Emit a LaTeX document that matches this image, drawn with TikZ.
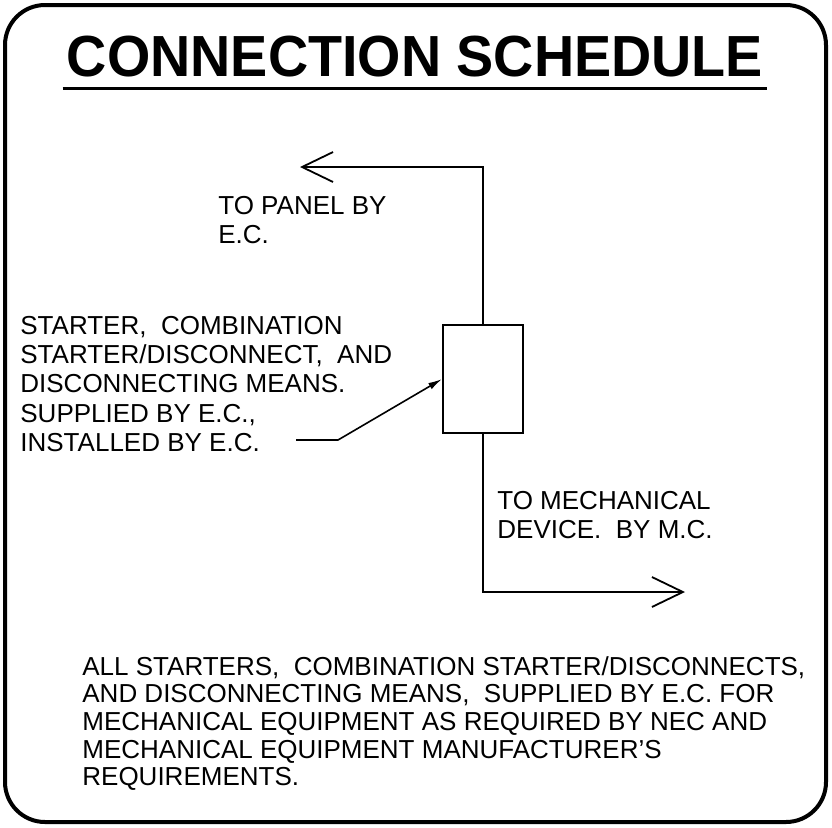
\documentclass[tikz,border=0pt]{standalone}
\usepackage{fontspec}
\setmainfont{Liberation Sans}
\newfontfamily\titlefont[FakeStretch=0.96]{Liberation Sans}
\usetikzlibrary{arrows.meta,positioning}

\begin{document}
\begin{tikzpicture}[
        x=0.5pt, y=-0.5pt,
        frame/.style={draw, line width=2pt, rounded corners=20pt},
        heading/.style={font=\titlefont\bfseries\fontsize{29}{32}\selectfont, inner xsep=2pt, inner ysep=6pt, anchor=base},
        note/.style={align=left, anchor=north west, inner sep=0pt, font=\fontsize{13}{14.6}\selectfont},
        para/.style={align=left, anchor=north west, inner sep=0pt, font=\fontsize{13}{13.8}\selectfont},
        device/.style={draw, line width=0.9pt, minimum width=40pt, minimum height=54pt, inner sep=0pt},
        wire/.style={draw, line width=0.9pt, -{Straight Barb[length=15.5pt, width=15pt]}},
        leader/.style={draw, line width=0.8pt, -{Latex[length=7pt, width=3.5pt]}}
    ]
        \useasboundingbox (0,0) rectangle (832,827);

        % Border and heading
        \draw [frame] (5,5) rectangle (826,822);
        \node (title) [heading] at (415,76) {CONNECTION SCHEDULE};
        \draw [line width=1.5pt] (title.south west) -- (title.south east);

        % Starter box and feeds
        \node (starter) [device] at (483,379) {};
        \coordinate (panel) at (300,167);
        \coordinate (mech) at (685,592);
        \draw [wire] (starter.north) |- (panel);
        \draw [wire] (starter.south) |- (mech);

        % Labels
        \node (topanel) [note] at (218,196) {TO PANEL BY\\E.C.};
        \node (tomech) [note] at (497,491) {TO MECHANICAL\\DEVICE.~ BY M.C.};
        \node (means) [note] at (20,316) {STARTER,~ COMBINATION\\STARTER/DISCONNECT,~ AND\\DISCONNECTING MEANS.\\SUPPLIED BY E.C.,\\INSTALLED BY E.C.};
        \coordinate (lead) at (296,440);
        \draw [leader] (lead) -- ++(42,0) -- (starter.west);

        % General note
        \node (general) [para] at (82,656) {ALL STARTERS,~ COMBINATION STARTER/DISCONNECTS,\\AND DISCONNECTING MEANS,~ SUPPLIED BY E.C. FOR\\MECHANICAL EQUIPMENT AS REQUIRED BY NEC AND\\MECHANICAL EQUIPMENT MANUFACTURER'S\\REQUIREMENTS.};
    \end{tikzpicture}
\end{document}
